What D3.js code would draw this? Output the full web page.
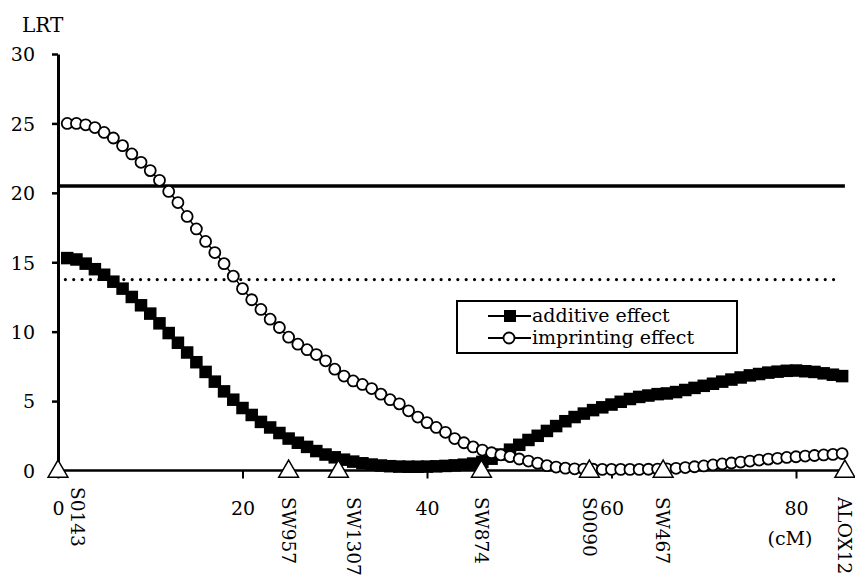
<!DOCTYPE html>
<html><head><meta charset="utf-8">
<script src="https://cdn.jsdelivr.net/npm/d3@7"></script>
<style>body{margin:0;background:#fff}</style>
</head><body>
<svg id="c" width="855" height="580"></svg>
<script>
// ---- data ----
const positions = d3.range(1, 86); // cM
const additive = [15.3,15.2,14.9,14.5,14.1,13.6,13.1,12.5,11.9,11.3,
  10.6,9.9,9.2,8.5,7.8,7.1,6.4,5.7,5.1,4.5,
  4.0,3.5,3.1,2.7,2.3,2.0,1.7,1.4,1.15,0.95,
  0.78,0.64,0.52,0.43,0.36,0.31,0.28,0.27,0.27,0.28,
  0.3,0.33,0.37,0.42,0.5,0.62,0.85,1.15,1.5,1.85,
  2.2,2.5,2.85,3.2,3.55,3.85,4.1,4.35,4.55,4.75,
  4.95,5.15,5.3,5.4,5.5,5.55,5.65,5.8,5.95,6.1,
  6.25,6.4,6.55,6.7,6.85,6.95,7.05,7.12,7.18,7.2,
  7.15,7.1,7.0,6.9,6.8];
const imprinting = [25.0,25.0,24.9,24.7,24.35,23.95,23.4,22.8,22.2,21.6,
  20.9,20.1,19.3,18.3,17.4,16.5,15.7,14.9,14.0,13.1,
  12.3,11.6,10.9,10.3,9.6,9.1,8.7,8.35,7.9,7.3,
  6.8,6.45,6.2,5.9,5.5,5.1,4.8,4.3,3.85,3.45,
  3.1,2.75,2.3,2.0,1.7,1.47,1.28,1.13,1.0,0.83,
  0.68,0.53,0.35,0.25,0.17,0.12,0.1,0.09,0.08,0.08,
  0.08,0.08,0.08,0.09,0.1,0.12,0.16,0.21,0.27,0.33,
  0.4,0.47,0.54,0.61,0.68,0.75,0.82,0.88,0.94,0.99,
  1.04,1.08,1.12,1.16,1.22];
const markerNames = ["S0143","SW957","SW1307","SW874","S0090","SW467","ALOX12"];
const markerPos = [0,25.0,30.4,45.9,57.6,65.6,85.3];
const xTicks = [0,20,40,60,80];
const yTicks = [0,5,10,15,20,25,30];
const threshold1 = 20.5;   // solid
const threshold5 = 13.75;  // dotted
const seriesNames = ["additive effect","imprinting effect"];

// ---- drawing ----
const svg = d3.select("#c");
const font = "'DejaVu Serif', serif";
const x = d3.scaleLinear().domain([0,80]).range([58,796]);
const y = d3.scaleLinear().domain([0,30]).range([470.5,54]);
const xEnd = markerPos[markerPos.length-1];

// y axis
const ya = svg.append("g").attr("transform","translate("+x(0)+",0)")
  .call(d3.axisLeft(y).tickValues(yTicks).tickSize(6).tickPadding(17).tickSizeOuter(0));
ya.select(".domain").attr("stroke","#000").attr("stroke-width",3);
ya.selectAll(".tick line").attr("stroke","#000").attr("stroke-width",2.5);
ya.selectAll(".tick text").attr("font-family",font).attr("font-size",19).attr("fill","#000")
  .attr("dy","0.36em");

// x axis
const xa = svg.append("g").attr("transform","translate(0,"+y(0)+")")
  .call(d3.axisBottom(x).tickValues(xTicks).tickSize(8).tickSizeOuter(0));
xa.select(".domain").attr("d","M"+x(0)+",0H"+x(xEnd)).attr("stroke","#000").attr("stroke-width",2.5);
xa.selectAll(".tick line").attr("stroke","#000").attr("stroke-width",2);
xa.selectAll(".tick text").attr("font-family",font).attr("font-size",19).attr("fill","#000")
  .attr("y",44).attr("dy",0);
svg.append("text").attr("x",x(80)-6).attr("y",545).attr("text-anchor","middle")
  .attr("font-family",font).attr("font-size",19).text("(cM)");

svg.append("text").attr("x",22).attr("y",32).attr("font-family",font).attr("font-size",20).text("LRT");

// threshold lines
svg.append("line").attr("x1",x(0)).attr("x2",x(xEnd)).attr("y1",y(threshold1)).attr("y2",y(threshold1))
  .attr("stroke","#000").attr("stroke-width",3.5);
svg.append("line").attr("x1",x(0.8)).attr("x2",x(84.7)).attr("y1",y(threshold5)).attr("y2",y(threshold5))
  .attr("stroke","#000").attr("stroke-width",3.2).attr("stroke-dasharray","0,8.35").attr("stroke-linecap","round");

// series
const addData = positions.map((p,i)=>({p, v:additive[i]}));
const impData = positions.map((p,i)=>({p, v:imprinting[i]}));
const line = d3.line().x(d=>x(d.p)).y(d=>y(d.v));
svg.append("path").datum(addData).attr("d",line).attr("fill","none").attr("stroke","#000").attr("stroke-width",2);
svg.append("path").datum(impData).attr("d",line).attr("fill","none").attr("stroke","#000").attr("stroke-width",1.5);
const sq = 12.5;
svg.append("g").selectAll("rect").data(addData).join("rect")
  .attr("x",d=>x(d.p)-sq/2).attr("y",d=>y(d.v)-sq/2).attr("width",sq).attr("height",sq).attr("fill","#000");
svg.append("g").selectAll("circle").data(impData).join("circle")
  .attr("cx",d=>x(d.p)).attr("cy",d=>y(d.v)).attr("r",5.5)
  .attr("fill","#fff").attr("stroke","#000").attr("stroke-width",1.8);

// markers
const tri = d3.symbol().type(d3.symbolTriangle).size(170);
const markers = markerNames.map((n,i)=>({n, p:markerPos[i]}));
svg.append("g").selectAll("path").data(markers).join("path")
  .attr("d",tri).attr("transform",d=>"translate("+x(d.p)+","+(y(0)+1)+")")
  .attr("fill","#fff").attr("stroke","#000").attr("stroke-width",1.5);
const labelShift = {"S0143":[20,487],"SW1307":[15,497]};
svg.append("g").selectAll("text").data(markers).join("text")
  .attr("transform",d=>{const s=labelShift[d.n]||[0,497];return "translate("+(x(d.p)+s[0])+","+s[1]+") rotate(90)";})
  .attr("dy","0.36em").attr("font-family",font).attr("font-size",18.5).text(d=>d.n);

// legend
const lg = svg.append("g");
lg.append("rect").attr("x",457).attr("y",301).attr("width",280).attr("height",52)
  .attr("fill","#fff").attr("stroke","#000").attr("stroke-width",2);
const rows = [316,338];
rows.forEach((ry,i)=>{
  lg.append("line").attr("x1",488).attr("x2",531).attr("y1",ry).attr("y2",ry).attr("stroke","#000").attr("stroke-width",2);
  if(i===0) lg.append("rect").attr("x",510-6).attr("y",ry-6).attr("width",12).attr("height",12).attr("fill","#000");
  else lg.append("circle").attr("cx",509).attr("cy",ry).attr("r",5.5).attr("fill","#fff").attr("stroke","#000").attr("stroke-width",1.8);
  lg.append("text").attr("x",532).attr("y",ry+5.5).attr("font-family",font).attr("font-size",19).text(seriesNames[i]);
});
</script>
</body></html>
